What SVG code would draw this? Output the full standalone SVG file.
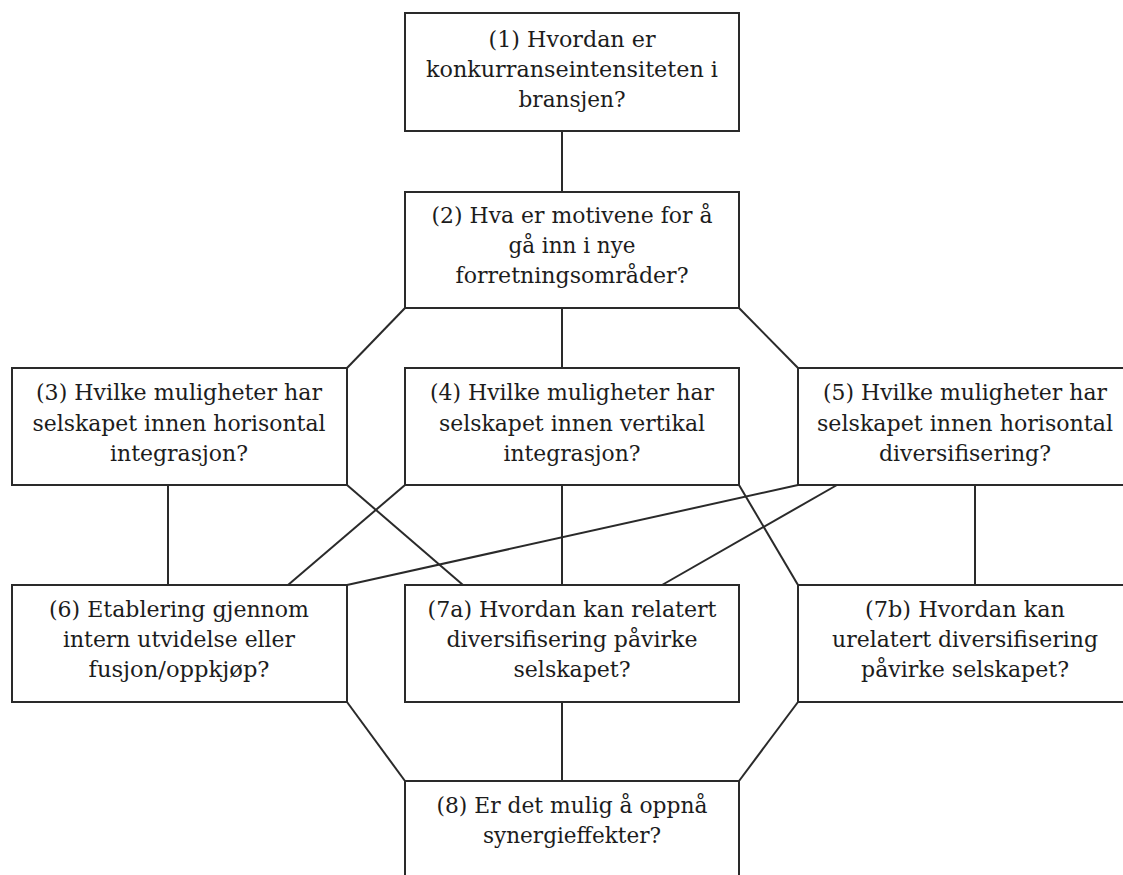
<svg xmlns="http://www.w3.org/2000/svg" width="1123" height="875" viewBox="0 0 1123 875">
  <style>
    .box { fill: #ffffff; stroke: #2a2a2a; stroke-width: 2; }
    .link { stroke: #2a2a2a; stroke-width: 2; fill: none; }
    .lbl { font-family: "DejaVu Serif", "Liberation Serif", serif; font-size: 22px; fill: #1c1c1c; text-anchor: middle; }
  </style>
  <rect width="1123" height="875" fill="#ffffff"/>

  <!-- connectors -->
  <g id="connectors" class="link">
    <line x1="562" y1="131" x2="562" y2="192"/>
    <line x1="562" y1="308" x2="562" y2="368"/>
    <line x1="405" y1="308" x2="347" y2="368"/>
    <line x1="739" y1="308" x2="798" y2="368"/>
    <line x1="168" y1="485" x2="168" y2="585"/>
    <line x1="347" y1="485" x2="463" y2="585"/>
    <line x1="405" y1="485" x2="288" y2="585"/>
    <line x1="562" y1="485" x2="562" y2="585"/>
    <line x1="739" y1="485" x2="798" y2="585"/>
    <line x1="798" y1="485" x2="347" y2="585"/>
    <line x1="837" y1="485" x2="662" y2="585"/>
    <line x1="975" y1="485" x2="975" y2="585"/>
    <line x1="347" y1="702" x2="405" y2="781"/>
    <line x1="562" y1="702" x2="562" y2="781"/>
    <line x1="798" y1="702" x2="739" y2="781"/>
  </g>

  <g id="node1">
    <rect class="box" x="405" y="13" width="334" height="118"/>
    <text class="lbl" x="572" y="47" textLength="167" lengthAdjust="spacingAndGlyphs">(1) Hvordan er</text>
    <text class="lbl" x="572" y="77" textLength="292" lengthAdjust="spacingAndGlyphs">konkurranseintensiteten i</text>
    <text class="lbl" x="572" y="107" textLength="107" lengthAdjust="spacingAndGlyphs">bransjen?</text>
  </g>

  <g id="node2">
    <rect class="box" x="405" y="192" width="334" height="116"/>
    <text class="lbl" x="572" y="223" textLength="281" lengthAdjust="spacingAndGlyphs">(2) Hva er motivene for å</text>
    <text class="lbl" x="572" y="253" textLength="127" lengthAdjust="spacingAndGlyphs">gå inn i nye</text>
    <text class="lbl" x="572" y="283" textLength="233" lengthAdjust="spacingAndGlyphs">forretningsområder?</text>
  </g>

  <g id="node3">
    <rect class="box" x="12" y="368" width="335" height="117"/>
    <text class="lbl" x="179" y="400" textLength="286" lengthAdjust="spacingAndGlyphs">(3) Hvilke muligheter har</text>
    <text class="lbl" x="179" y="431" textLength="293" lengthAdjust="spacingAndGlyphs">selskapet innen horisontal</text>
    <text class="lbl" x="179" y="461" textLength="138" lengthAdjust="spacingAndGlyphs">integrasjon?</text>
  </g>

  <g id="node4">
    <rect class="box" x="405" y="368" width="334" height="117"/>
    <text class="lbl" x="572" y="400" textLength="284" lengthAdjust="spacingAndGlyphs">(4) Hvilke muligheter har</text>
    <text class="lbl" x="572" y="431" textLength="266" lengthAdjust="spacingAndGlyphs">selskapet innen vertikal</text>
    <text class="lbl" x="572" y="461" textLength="137" lengthAdjust="spacingAndGlyphs">integrasjon?</text>
  </g>

  <g id="node5">
    <rect class="box" x="798" y="368" width="335" height="117"/>
    <text class="lbl" x="965" y="400" textLength="284" lengthAdjust="spacingAndGlyphs">(5) Hvilke muligheter har</text>
    <text class="lbl" x="965" y="431" textLength="296" lengthAdjust="spacingAndGlyphs">selskapet innen horisontal</text>
    <text class="lbl" x="965" y="461" textLength="172" lengthAdjust="spacingAndGlyphs">diversifisering?</text>
  </g>

  <g id="node6">
    <rect class="box" x="12" y="585" width="335" height="117"/>
    <text class="lbl" x="179" y="617" textLength="260" lengthAdjust="spacingAndGlyphs">(6) Etablering gjennom</text>
    <text class="lbl" x="179" y="647" textLength="232" lengthAdjust="spacingAndGlyphs">intern utvidelse eller</text>
    <text class="lbl" x="179" y="677" textLength="181" lengthAdjust="spacingAndGlyphs">fusjon/oppkjøp?</text>
  </g>

  <g id="node7a">
    <rect class="box" x="405" y="585" width="334" height="117"/>
    <text class="lbl" x="572" y="617" textLength="289" lengthAdjust="spacingAndGlyphs">(7a) Hvordan kan relatert</text>
    <text class="lbl" x="572" y="647" textLength="251" lengthAdjust="spacingAndGlyphs">diversifisering påvirke</text>
    <text class="lbl" x="572" y="677" textLength="117" lengthAdjust="spacingAndGlyphs">selskapet?</text>
  </g>

  <g id="node7b">
    <rect class="box" x="798" y="585" width="335" height="117"/>
    <text class="lbl" x="965" y="617" textLength="200" lengthAdjust="spacingAndGlyphs">(7b) Hvordan kan</text>
    <text class="lbl" x="965" y="647" textLength="266" lengthAdjust="spacingAndGlyphs">urelatert diversifisering</text>
    <text class="lbl" x="965" y="677" textLength="208" lengthAdjust="spacingAndGlyphs">påvirke selskapet?</text>
  </g>

  <g id="node8">
    <rect class="box" x="405" y="781" width="334" height="120"/>
    <text class="lbl" x="572" y="813" textLength="271" lengthAdjust="spacingAndGlyphs">(8) Er det mulig å oppnå</text>
    <text class="lbl" x="572" y="843" textLength="178" lengthAdjust="spacingAndGlyphs">synergieffekter?</text>
  </g>
</svg>
